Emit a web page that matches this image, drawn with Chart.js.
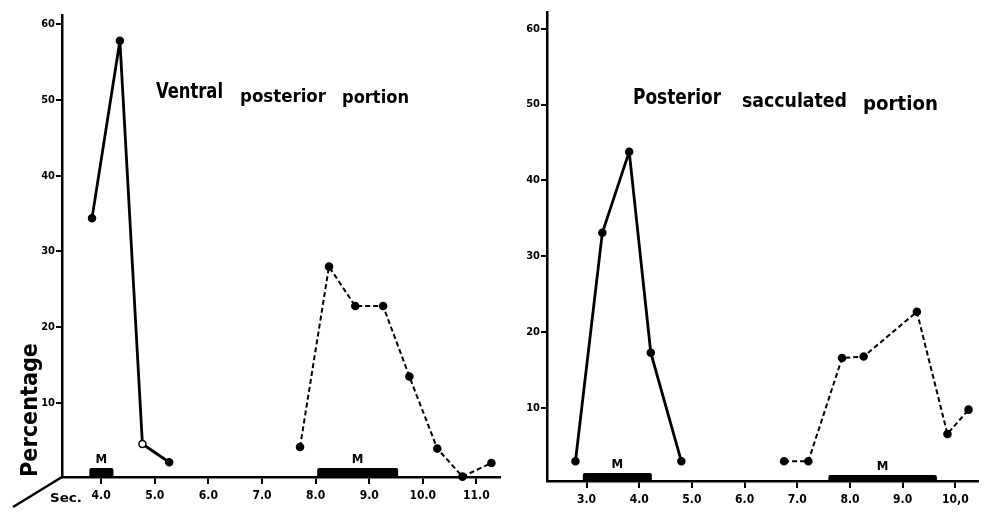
<!DOCTYPE html>
<html>
<head>
<meta charset="utf-8">
<script src="https://cdn.jsdelivr.net/npm/chart.js@4.4.1/dist/chart.umd.min.js"></script>
<style>
  body { margin: 0; background: #fff; }
  #wrap { position: relative; width: 984px; height: 513px; overflow: hidden; }
  .box { position: absolute; top: 0; height: 513px; }
</style>
</head>
<body>
<div id="wrap">
  <div class="box" id="leftBox" style="left:0;width:510px"><canvas id="leftChart"></canvas></div>
  <div class="box" id="rightBox" style="left:510px;width:474px"><canvas id="rightChart"></canvas></div>
</div>
<script>

// LEFT: Ventral posterior portion
const leftSolidX = [3.83, 4.35, 4.77, 5.27];
const leftSolidY = [34.4, 57.8, 4.6, 2.2];
const leftDashX = [7.71, 8.25, 8.74, 9.26, 9.75, 10.27, 10.74, 11.28];
const leftDashY = [4.2, 28.0, 22.8, 22.8, 13.5, 4.0, 0.3, 2.1];
const leftXTicks = [4, 5, 6, 7, 8, 9, 10, 11];
const leftMBars = [[3.78, 4.23], [8.03, 9.54]];

// RIGHT: Posterior sacculated portion
const rightSolidX = [2.79, 3.30, 3.81, 4.22, 4.80];
const rightSolidY = [3.0, 33.1, 43.8, 17.3, 3.0];
const rightDashX = [6.75, 7.21, 7.85, 8.26, 9.27, 9.85, 10.25];
const rightDashY = [3.0, 3.0, 16.6, 16.8, 22.7, 6.6, 9.8];
const rightXTicks = [3, 4, 5, 6, 7, 8, 9, 10];
const rightMBars = [[2.93, 4.24], [7.59, 9.65]];

const yTicks = [10, 20, 30, 40, 50, 60];

function pts(xs, ys) {
    return xs.map(function (x, i) { return { x: x, y: ys[i] }; });
}

const handFont = "'DejaVu Sans Condensed', 'DejaVu Sans', sans-serif";

// draw a word squeezed/stretched to a given width
function fitWord(ctx, text, x, y, w) {
    const m = ctx.measureText(text).width;
    ctx.save();
    ctx.translate(x, y);
    ctx.scale(w / m, 1);
    ctx.fillText(text, 0, 0);
    ctx.restore();
}

// M bars + labels + titles, drawn with the chart scales
const extrasPlugin = {
    id: "extras",
    afterDatasetsDraw: function (chart, args, opts) {
        const ctx = chart.ctx;
        const xs = chart.scales.x;
        const bottom = chart.chartArea.bottom;
        ctx.save();
        ctx.fillStyle = "#000";
        opts.bars.forEach(function (b, i) {
            const x1 = xs.getPixelForValue(b[0]);
            const x2 = xs.getPixelForValue(b[1]);
            const h = opts.barH[i];
            ctx.beginPath();
            ctx.roundRect(x1, bottom - h, x2 - x1, h + 1, 2);
            ctx.fill();
            ctx.font = "bold 13px 'DejaVu Sans Condensed', sans-serif";
            ctx.textAlign = "center";
            ctx.textBaseline = "alphabetic";
            ctx.fillText("M", (x1 + x2) / 2, bottom - h - 5);
        });
        // title words
        ctx.textAlign = "left";
        opts.words.forEach(function (w) {
            ctx.font = "bold " + w[4] + "px " + handFont;
            fitWord(ctx, w[0], w[1] - opts.offset, w[2], w[3]);
        });
        if (opts.left) {
            // perspective axis and labels
            const ox = chart.chartArea.left;
            ctx.strokeStyle = "#000";
            ctx.lineWidth = 2.5;
            ctx.beginPath();
            ctx.moveTo(ox, bottom);
            ctx.lineTo(13, 507);
            ctx.stroke();
            ctx.font = "bold 13px 'DejaVu Sans Condensed', sans-serif";
            fitWord(ctx, "Sec.", 50, 502, 32);
            ctx.translate(37, 477);
            ctx.rotate(-Math.PI / 2);
            ctx.font = "bold 23px " + handFont;
            fitWord(ctx, "Percentage", 0, 0, 134);
        }
        ctx.restore();
    }
};

function makeChart(id, cfg) {
    const canvas = document.getElementById(id);

    new Chart(canvas, {
        type: "line",
        data: {
            datasets: [
                {
                    data: pts(cfg.solidX, cfg.solidY),
                    borderColor: "#000",
                    borderWidth: 2.8,
                    borderJoinStyle: "round",
                    pointRadius: 3.5,
                    pointBackgroundColor: cfg.solidFill,
                    pointBorderColor: "#000",
                    pointBorderWidth: 1.5,
                    tension: 0
                },
                {
                    data: pts(cfg.dashX, cfg.dashY),
                    borderColor: "#000",
                    borderWidth: 2,
                    borderDash: [5, 3],
                    borderJoinStyle: "round",
                    pointRadius: 3.3,
                    pointBackgroundColor: "#000",
                    pointBorderColor: "#000",
                    tension: 0
                }
            ]
        },
        options: {
            responsive: true,
            maintainAspectRatio: false,
            animation: false,
            clip: false,
            layout: {
                padding: { top: cfg.padTop, right: cfg.padRight, left: 0, bottom: 0 }
            },
            plugins: {
                legend: { display: false },
                tooltip: { enabled: false },
                extras: {
                    bars: cfg.mBars,
                    barH: cfg.barH,
                    words: cfg.words,
                    offset: cfg.left,
                    left: cfg.isLeft
                }
            },
            scales: {
                x: {
                    type: "linear",
                    min: cfg.xMin,
                    max: cfg.xMax,
                    afterBuildTicks: function (s) {
                        s.ticks = cfg.xTicks.map(function (v) { return { value: v }; });
                    },
                    afterFit: function (s) { s.height = cfg.xHeight; },
                    ticks: {
                        color: "#000",
                        padding: 5,
                        maxRotation: 0,
                        autoSkip: false,
                        font: { family: "'DejaVu Sans Condensed', sans-serif", size: 12, weight: "bold" },
                        callback: function (v) { return cfg.xFmt(v); }
                    },
                    grid: {
                        display: true,
                        drawOnChartArea: false,
                        drawTicks: true,
                        tickLength: 7,
                        color: "#000",
                        lineWidth: 2
                    },
                    border: { display: true, color: "#000", width: 2.5 }
                },
                y: {
                    min: cfg.yMin,
                    max: cfg.yMax,
                    afterBuildTicks: function (s) {
                        s.ticks = yTicks.map(function (v) { return { value: v }; });
                    },
                    afterFit: function (s) { s.width = cfg.yWidth; },
                    ticks: {
                        color: "#000",
                        padding: 1,
                        font: { family: "'DejaVu Sans Condensed', sans-serif", size: 11, weight: "bold" }
                    },
                    grid: {
                        display: true,
                        drawOnChartArea: false,
                        drawTicks: true,
                        tickLength: 6,
                        color: "#000",
                        lineWidth: 2
                    },
                    border: { display: true, color: "#000", width: 2.5 }
                }
            }
        },
        plugins: [extrasPlugin]
    });
}

makeChart("leftChart", {
    left: 0,
    solidX: leftSolidX, solidY: leftSolidY,
    solidFill: ["#000", "#000", "#fff", "#000"],
    dashX: leftDashX, dashY: leftDashY,
    xTicks: leftXTicks,
    xFmt: function (v) { return v.toFixed(1); },
    xMin: 3.27, xMax: 11.44,
    yMin: 0.25, yMax: 61.2,
    yWidth: 62, xHeight: 36,
    padTop: 15, padRight: 10,
    mBars: leftMBars, barH: [9, 9],
    words: [["Ventral", 156, 98, 67, 22], ["posterior", 240, 102, 86, 18], ["portion", 342, 103, 67, 18]],
    isLeft: true
});

makeChart("rightChart", {
    left: 510,
    solidX: rightSolidX, solidY: rightSolidY,
    solidFill: "#000",
    dashX: rightDashX, dashY: rightDashY,
    xTicks: rightXTicks,
    xFmt: function (v) { return v === 10 ? "10,0" : v.toFixed(1); },
    xMin: 2.25, xMax: 10.43,
    yMin: 0.4, yMax: 62.2,
    yWidth: 37, xHeight: 32,
    padTop: 12, padRight: 0,
    mBars: rightMBars, barH: [8, 6],
    words: [["Posterior", 633, 104, 88, 21], ["sacculated", 742, 107, 105, 20], ["portion", 863, 110, 75, 20]],
    isLeft: false
});

</script>
</body>
</html>
